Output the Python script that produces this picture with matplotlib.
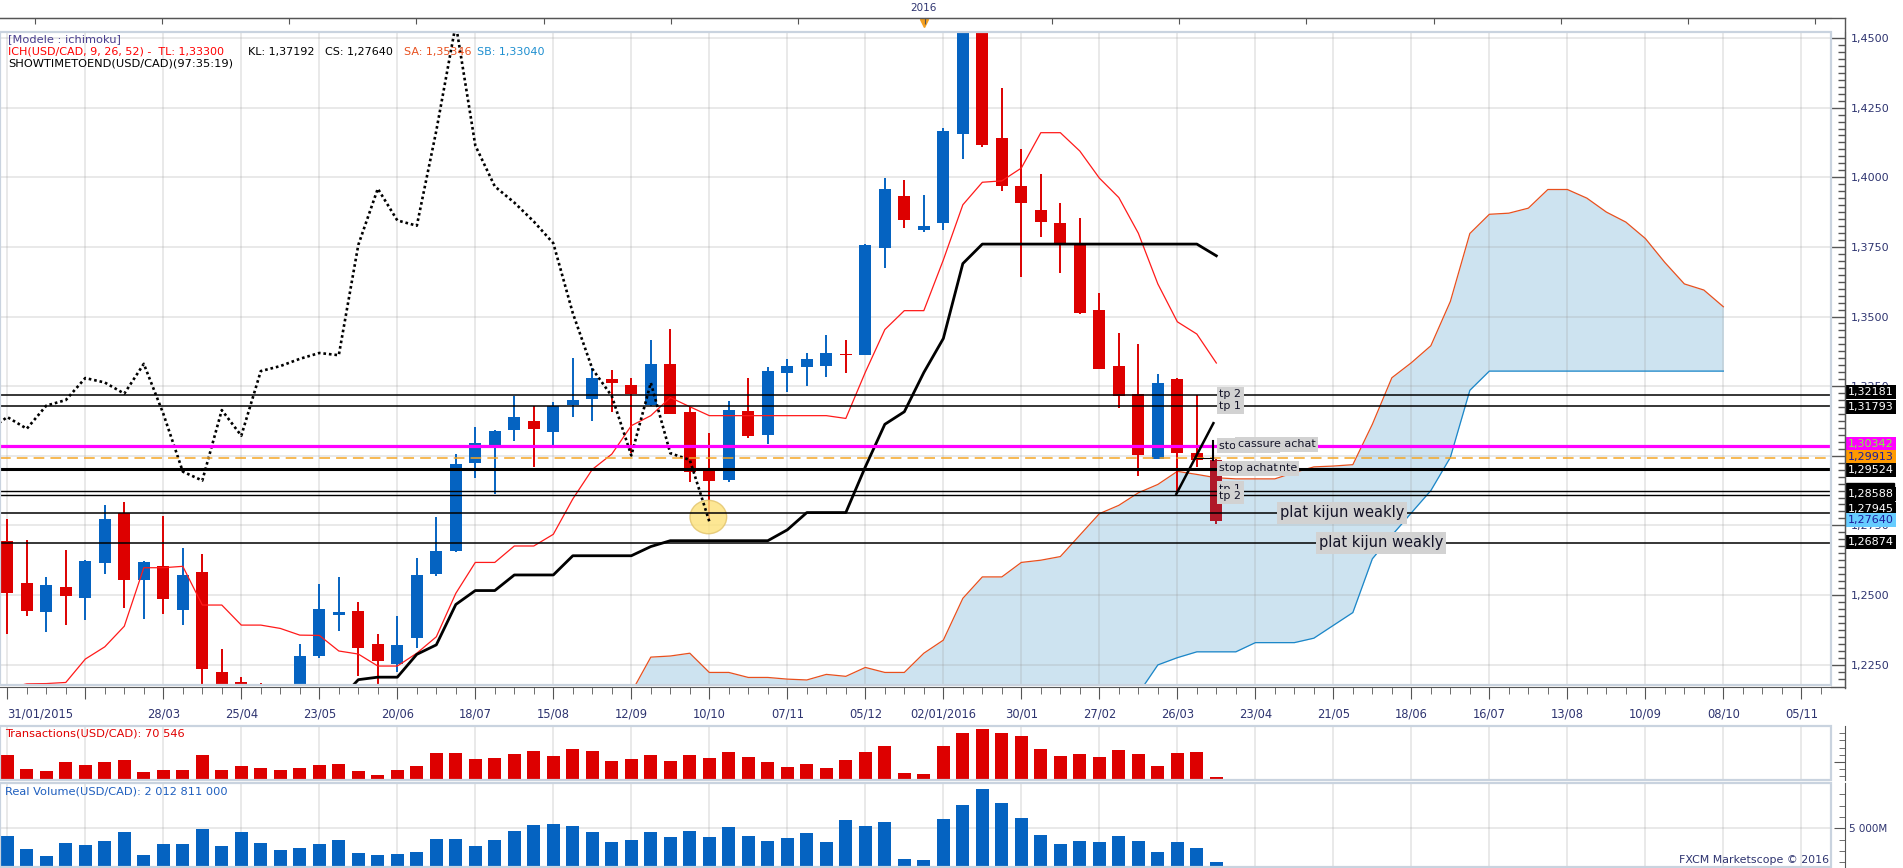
import numpy as np
import matplotlib
matplotlib.use("Agg")
import matplotlib.pyplot as plt
import matplotlib.transforms as mtransforms
from matplotlib.patches import Rectangle, Ellipse
from matplotlib.lines import Line2D
from matplotlib.ticker import MultipleLocator, FuncFormatter

plt.rcParams['font.family'] = ['DejaVu Sans']

# weekly USD/CAD candles, week 0 = 31/01/2015
opens = [1.2694, 1.2543, 1.2440, 1.2528, 1.2490, 1.2616, 1.2795, 1.2555, 1.2604, 1.2447,
         1.2582, 1.2223, 1.2187, 1.2110, 1.2060, 1.2130, 1.2282, 1.2429, 1.2442, 1.2324,
         1.2253, 1.2346, 1.2576, 1.2659, 1.2975, 1.3033, 1.3094, 1.3125, 1.3087, 1.3182,
         1.3202, 1.3276, 1.3254, 1.3182, 1.3330, 1.3157, 1.2954, 1.2914, 1.3161, 1.3076,
         1.3298, 1.3320, 1.3324, 1.3365, 1.3363, 1.3747, 1.3933, 1.3809, 1.3835, 1.4154,
         1.4560, 1.4141, 1.3969, 1.3883, 1.3836, 1.3760, 1.3524, 1.3323, 1.3223, 1.2990,
         1.3277, 1.3010, 1.2985]
highs = [1.2773, 1.2697, 1.2564, 1.2661, 1.2625, 1.2823, 1.2834, 1.2622, 1.2783, 1.2668,
         1.2647, 1.2306, 1.2205, 1.2183, 1.2170, 1.2324, 1.2539, 1.2564, 1.2475, 1.2360,
         1.2424, 1.2633, 1.2780, 1.3006, 1.3105, 1.3092, 1.3215, 1.3180, 1.3192, 1.3351,
         1.3314, 1.3308, 1.3279, 1.3416, 1.3455, 1.3176, 1.3082, 1.3198, 1.3279, 1.3318,
         1.3348, 1.3370, 1.3434, 1.3416, 1.3760, 1.3997, 1.3991, 1.3937, 1.4177, 1.4690,
         1.4690, 1.4321, 1.4100, 1.4013, 1.3908, 1.3855, 1.3585, 1.3441, 1.3403, 1.3295,
         1.3280, 1.3218, 1.2990]
lows = [1.2359, 1.2425, 1.2367, 1.2393, 1.2410, 1.2575, 1.2453, 1.2413, 1.2431, 1.2392,
        1.2150, 1.2120, 1.2030, 1.1950, 1.2000, 1.2100, 1.2275, 1.2372, 1.2209, 1.2180,
        1.2224, 1.2311, 1.2570, 1.2655, 1.2919, 1.2863, 1.3054, 1.2959, 1.3029, 1.3140,
        1.3123, 1.3158, 1.3009, 1.3180, 1.3150, 1.2907, 1.2769, 1.2904, 1.3063, 1.3041,
        1.3229, 1.3252, 1.3283, 1.3298, 1.3360, 1.3673, 1.3818, 1.3805, 1.3812, 1.4064,
        1.4110, 1.3949, 1.3641, 1.3787, 1.3655, 1.3508, 1.3310, 1.3171, 1.2926, 1.2988,
        1.2863, 1.2959, 1.2754]
closes = [1.2508, 1.2443, 1.2536, 1.2497, 1.2622, 1.2773, 1.2555, 1.2618, 1.2485, 1.2571,
          1.2235, 1.2180, 1.2110, 1.2060, 1.2130, 1.2281, 1.2449, 1.2439, 1.2311, 1.2264,
          1.2320, 1.2571, 1.2658, 1.2970, 1.3046, 1.3089, 1.3139, 1.3097, 1.3180, 1.3200,
          1.3279, 1.3263, 1.3223, 1.3330, 1.3151, 1.2943, 1.2911, 1.3164, 1.3072, 1.3304,
          1.3322, 1.3348, 1.3369, 1.3361, 1.3757, 1.3959, 1.3845, 1.3826, 1.4167, 1.4550,
          1.4114, 1.3967, 1.3909, 1.3841, 1.3763, 1.3512, 1.3312, 1.3214, 1.3001, 1.3262,
          1.3009, 1.2985, 1.2764]

# ichimoku lines
tenkan = [1.2165, 1.2181, 1.2182, 1.2186, 1.2270, 1.2314, 1.2388, 1.2598, 1.2598, 1.2603,
          1.2464, 1.2464, 1.2392, 1.2392, 1.2380, 1.2356, 1.2355, 1.2299, 1.2288, 1.2245,
          1.2245, 1.2291, 1.2350, 1.2506, 1.2617, 1.2617, 1.2676, 1.2676, 1.2718, 1.2845,
          1.2951, 1.3006, 1.3108, 1.3144, 1.3209, 1.3176, 1.3144, 1.3144, 1.3144, 1.3144,
          1.3144, 1.3144, 1.3144, 1.3134, 1.3300, 1.3453, 1.3521, 1.3521, 1.3703, 1.3901,
          1.3982, 1.3987, 1.4033, 1.4160, 1.4160, 1.4094, 1.3997, 1.3927, 1.3799, 1.3617,
          1.3481, 1.3437, 1.3333]
kijun_start = 17
kijun = [1.2120, 1.2196, 1.2205, 1.2205, 1.2287, 1.2321, 1.2466, 1.2516, 1.2516, 1.2572,
         1.2572, 1.2572, 1.2641, 1.2641, 1.2641, 1.2641, 1.2674, 1.2695, 1.2695, 1.2695,
         1.2695, 1.2695, 1.2695, 1.2734, 1.2796, 1.2796, 1.2796, 1.2960, 1.3113, 1.3158,
         1.3299, 1.3421, 1.3690, 1.3760, 1.3760, 1.3760, 1.3760, 1.3760, 1.3760, 1.3760,
         1.3760, 1.3760, 1.3760, 1.3760, 1.3760, 1.3718]
cloud_start = 32
senkou_a = [1.2150, 1.2277, 1.2281, 1.2291, 1.2222, 1.2222, 1.2204, 1.2204, 1.2198, 1.2195,
            1.2215, 1.2208, 1.2240, 1.2222, 1.2222, 1.2291, 1.2338, 1.2488, 1.2565, 1.2565,
            1.2617, 1.2625, 1.2638, 1.2715, 1.2792, 1.2822, 1.2867, 1.2897, 1.2944, 1.2933,
            1.2921, 1.2917, 1.2917, 1.2917, 1.2940, 1.2960, 1.2963, 1.2968, 1.3113, 1.3280,
            1.3334, 1.3395, 1.3554, 1.3798, 1.3867, 1.3871, 1.3889, 1.3956, 1.3956, 1.3925,
            1.3875, 1.3839, 1.3780, 1.3694, 1.3617, 1.3595, 1.3535]
senkou_b = [1.2040, 1.2040, 1.2040, 1.2040, 1.2040, 1.2040, 1.2040, 1.2040, 1.2040, 1.2075,
            1.2075, 1.2075, 1.2075, 1.2075, 1.2075, 1.2075, 1.2075, 1.2075, 1.2110, 1.2110,
            1.2110, 1.2110, 1.2110, 1.2110, 1.2110, 1.2110, 1.2146, 1.2249, 1.2275, 1.2296,
            1.2296, 1.2296, 1.2329, 1.2329, 1.2329, 1.2345, 1.2391, 1.2437, 1.2630, 1.2714,
            1.2795, 1.2875, 1.2994, 1.3235, 1.3304, 1.3304, 1.3304, 1.3304, 1.3304, 1.3304,
            1.3304, 1.3304, 1.3304, 1.3304, 1.3304, 1.3304, 1.3304]

# transactions (thousands) and real volume (millions)
transactions = [858, 353, 282, 600, 494, 600, 670, 247, 318, 318,
                847, 318, 459, 388, 318, 388, 494, 529, 282, 141,
                318, 459, 917, 917, 706, 741, 882, 988, 811, 1058,
                988, 635, 706, 847, 635, 847, 741, 953, 776, 600,
                423, 529, 388, 670, 953, 1164, 212, 176, 1164, 1635,
                1764, 1635, 1529, 1058, 823, 894, 788, 1035, 894, 470,
                929, 964, 71]
volume = [4027, 2301, 1372, 3053, 2788, 3319, 4514, 1505, 2921, 2921,
          4956, 2655, 4514, 3053, 2124, 2390, 2921, 3452, 1726, 1460,
          1593, 1859, 3584, 3584, 2655, 3452, 4646, 5443, 5576, 5310,
          4514, 3186, 3452, 4514, 3850, 4646, 3850, 5177, 3983, 3319,
          3717, 4381, 3186, 6107, 5310, 5841, 929, 797, 6239, 8098,
          10222, 8363, 6372, 4115, 2921, 3319, 3186, 3983, 3319, 1859,
          3186, 2390, 531]

date_labels = ['31/01/2015', '', '28/03', '25/04', '23/05', '20/06', '18/07', '15/08',
               '12/09', '10/10', '07/11', '05/12', '02/01/2016', '30/01', '27/02', '26/03',
               '23/04', '21/05', '18/06', '16/07', '13/08', '10/09', '08/10', '05/11']

levels = [1.32181, 1.31793, 1.30342, 1.29913, 1.29524, 1.28752, 1.28588, 1.27945, 1.26874]
trend_x = [59.95, 61.85]
trend_y = [1.2863, 1.3117]

W, H = 1903, 868
RED = '#dd0000'
BLUE = '#0563c1'
LAST = '#b01828'
AXIS = '#555555'
BORDER = '#c9d3df'
NAVY = '#2e3470'
GRID = '#999999'
XL = (-0.374, 93.52)

fig = plt.figure(figsize=(W / 100, H / 100), dpi=100)
fig.patch.set_facecolor('white')


def box(x0, y0, x1, y1):
    return [x0 / W, 1 - y1 / H, (x1 - x0) / W, (y1 - y0) / H]


def fig_line(x0, y0, x1, y1, **kw):
    fig.add_artist(Line2D([x0 / W, x1 / W], [1 - y0 / H, 1 - y1 / H],
                          transform=fig.transFigure, **kw))


def fig_text(x, y, s, **kw):
    fig.text(x / W, 1 - y / H, s, va='center', **kw)


week = np.arange(len(closes))
major_weeks = np.arange(0, 93, 4)

# ---------- price panel ----------
ax = fig.add_axes(box(0, 32, 1831, 685))
ax.set_xlim(XL)
ax.set_ylim(1.21769, 1.45215)
for s in ['left', 'top']:
    ax.spines[s].set_visible(False)
ax.spines['right'].set_position(('outward', 10.08))
ax.spines['bottom'].set_position(('outward', 1.5))
for s in ['right', 'bottom']:
    ax.spines[s].set_color(AXIS)
ax.add_patch(Rectangle((0, 0), 1, 1, transform=ax.transAxes, fill=False,
                       ec=BORDER, lw=1.6, clip_on=False, zorder=6))

ax.yaxis.tick_right()
ax.yaxis.set_major_locator(MultipleLocator(0.025))
ax.yaxis.set_minor_locator(MultipleLocator(0.0025))
ax.yaxis.set_major_formatter(FuncFormatter(lambda v, p: f'{v:.4f}'.replace('.', ',')))
ax.tick_params(axis='y', which='major', direction='in', length=10, width=1,
               color=AXIS, labelsize=8, labelcolor=NAVY, pad=4)
ax.tick_params(axis='y', which='minor', direction='in', length=5, width=1, color=AXIS)

ax.set_xticks(major_weeks)
labs = ax.set_xticklabels(date_labels)
labs[0].set_horizontalalignment('left')
ax.set_xticks(np.arange(0, 94), minor=True)
ax.tick_params(axis='x', which='major', direction='out', length=8.4, color=AXIS,
               labelsize=8.3, labelcolor=NAVY, pad=6)
ax.tick_params(axis='x', which='minor', direction='out', length=4.8, color=AXIS)

for wk in major_weeks:
    ax.axvline(wk, color=GRID, alpha=0.25, lw=1.2, zorder=1.5)
for lv in np.arange(1.225, 1.451, 0.025):
    ax.axhline(lv, color=GRID, alpha=0.25, lw=1.2, zorder=1.5)

# kumo
xc = np.arange(cloud_start, cloud_start + len(senkou_a))
ax.fill_between(xc, senkou_a, senkou_b, color='#cde3f0', lw=0, zorder=1)
ax.plot(xc, senkou_a, color='#e8501e', lw=0.9, zorder=3)
ax.plot(xc, senkou_b, color='#1a86c8', lw=0.9, zorder=3)

# candles
o, h, l, c = (np.array(v) for v in (opens, highs, lows, closes))
cols = np.where(c >= o, BLUE, RED).astype(object)
cols[-1] = LAST
ax.vlines(week, l, h, colors=list(cols), lw=1.4, zorder=3.5)
ax.bar(week, np.maximum(np.abs(c - o), 0.0005), bottom=np.minimum(o, c), width=0.62,
       color=list(cols), lw=0, zorder=3.6)

ax.add_patch(Ellipse((35.95, 1.2780), 1.88, 0.0120, fc='#fde27a', ec='#e2c36a',
                     lw=1, alpha=0.8, zorder=3.8))

ax.plot(week, tenkan, color='#ff1a1a', lw=0.9, zorder=4)
xk = np.arange(kijun_start, kijun_start + len(kijun))
ax.plot(xk, kijun, color='black', lw=2.0, zorder=4)
ax.plot(week[25:] - 26, c[25:], color='black', lw=1.9, ls=(0, (1, 1.1)), zorder=4)

level_styles = [dict(color='black', lw=1.1), dict(color='black', lw=1.1),
                dict(color='#ff00ff', lw=2.3), dict(color='#f5a623', lw=1.1, ls=(0, (7, 4))),
                dict(color='black', lw=2.2), dict(color='black', lw=1.0),
                dict(color='black', lw=1.0), dict(color='black', lw=1.1),
                dict(color='black', lw=1.1)]
for lv, st in zip(levels, level_styles):
    ax.axhline(lv, zorder=4.5, **st)

ax.plot(trend_x, trend_y, color='black', lw=1.8, zorder=4.6)
ax.plot([61.85, 61.85], [1.3053, 1.2985], color='black', lw=1.5, zorder=4.6)
ax.plot([60.9, 61.85], [1.2992, 1.2992], color='black', lw=0.8, zorder=4.6)

lab_box = dict(boxstyle='square,pad=0.22', fc='#d2d2d2', ec='none')


def chart_label(x, y, s, size=8, z=7):
    ax.text(x, y, s, fontsize=size, color='#141428', va='center', ha='left',
            bbox=lab_box, zorder=z)


chart_label(62.15, 1.32210, 'tp 2')
chart_label(62.15, 1.31780, 'tp 1')
chart_label(62.15, 1.30360, 'stop achat')
chart_label(63.10, 1.30410, 'cassure achat', z=7.2)
chart_label(63.10, 1.29550, 'stop vente')
chart_label(62.15, 1.29550, 'stop achat', z=7.2)
chart_label(62.15, 1.28820, 'tp 1')
chart_label(62.15, 1.28550, 'tp 2', z=7.2)
chart_label(65.25, 1.27945, 'plat kijun weakly', size=10.5)
chart_label(67.25, 1.26874, 'plat kijun weakly', size=10.5)

# price tags on the right scale
trans = mtransforms.blended_transform_factory(ax.transAxes, ax.transData)
ax.add_patch(Rectangle((1.0082, 1.28286), 0.0262, 0.0075, transform=trans,
                       color='black', clip_on=False, zorder=8))
price_tags = [(1.32181, 1.3229, 'black', 'white'), (1.31793, 1.3174, 'black', 'white'),
              (1.30342, 1.3043, '#ff00ff', '#7cff3a'), (1.29913, 1.2995, '#ff9a00', '#1c1c9c'),
              (1.29524, 1.2950, 'black', 'white'), (1.28588, 1.2864, 'black', 'white'),
              (1.27945, 1.2809, 'black', 'white'), (1.27640, 1.2768, '#66ccff', '#1c1c9c'),
              (1.26874, 1.2691, 'black', 'white')]
for val, ypos, fc, tc in price_tags:
    ax.text(1.0093, ypos, f'{val:.5f}'.replace('.', ','), transform=trans, fontsize=8,
            color=tc, va='center', ha='left', clip_on=False, zorder=9,
            bbox=dict(boxstyle='square,pad=0.18', fc=fc, ec='none'))

# top time axis
axt = ax.twiny()
axt.set_xlim(XL)
for s in ['left', 'right', 'bottom']:
    axt.spines[s].set_visible(False)
axt.spines['top'].set_position(('outward', 10.08))
axt.spines['top'].set_color(AXIS)
axt.set_xticks(np.arange(1.42, 94, 6.52))
axt.tick_params(axis='x', direction='in', length=4.3, color=AXIS, labeltop=False)
bt = mtransforms.blended_transform_factory(ax.transData, ax.transAxes)
ax.text(47.0, 1.0368, '2016', transform=bt, ha='center', va='center', fontsize=7.5,
        color=NAVY, clip_on=False)
ax.plot([47.0], [1.0135], marker='v', ms=6, color='#f5a020', transform=bt, clip_on=False)


# ---------- lower panels ----------
def sub_panel(a, ylim):
    a.set_xlim(XL)
    a.set_ylim(ylim)
    for s in ['left', 'top', 'bottom']:
        a.spines[s].set_visible(False)
    a.spines['right'].set_position(('outward', 10.08))
    a.spines['right'].set_color(AXIS)
    a.add_patch(Rectangle((0, 0), 1, 1, transform=a.transAxes, fill=False,
                          ec=BORDER, lw=1.6, clip_on=False, zorder=6))
    a.yaxis.tick_right()
    a.tick_params(axis='x', which='both', bottom=False, labelbottom=False)
    for wk in major_weeks:
        a.axvline(wk, color=GRID, alpha=0.25, lw=1.2, zorder=0.5)


ax2 = fig.add_axes(box(0, 726, 1831, 780))
sub_panel(ax2, (-35, 1871))
ax2.bar(week, transactions, width=0.67, color=RED, lw=0, zorder=2)
ax2.set_yticks([600])
ax2.set_yticks([90, 345, 855, 1110, 1365, 1620], minor=True)
ax2.tick_params(axis='y', which='major', direction='in', length=8, color=AXIS, labelright=False)
ax2.tick_params(axis='y', which='minor', direction='in', length=4, color=AXIS)

ax3 = fig.add_axes(box(0, 783, 1831, 867))
sub_panel(ax3, (-133, 11018))
ax3.axhline(5000, color=GRID, alpha=0.25, lw=1.2, zorder=0.5)
ax3.bar(week, volume, width=0.67, color=BLUE, lw=0, zorder=2)
ax3.set_yticks([5000])
ax3.set_yticklabels(['5 000M'])
ax3.set_yticks([500, 2000, 3500, 6500, 8000, 9500], minor=True)
ax3.tick_params(axis='y', which='major', direction='in', length=8, color=AXIS,
                labelsize=7.5, labelcolor=NAVY, pad=3)
ax3.tick_params(axis='y', which='minor', direction='in', length=4, color=AXIS)

# axis lines reaching the corners
fig_line(0, 18, 1845, 18, color=AXIS, lw=1)
fig_line(1845, 18, 1845, 688, color=AXIS, lw=1)
fig_line(1831, 687, 1845, 687, color=AXIS, lw=1)

# header texts
fig_text(8, 39, '[Modele : ichimoku]', color='#4a3f8f', fontsize=8.2)
fig_text(8, 52, 'ICH(USD/CAD, 9, 26, 52) -  TL: 1,33300', color='#ff0000', fontsize=8)
fig_text(248, 52, 'KL: 1,37192', color='black', fontsize=8)
fig_text(325, 52, 'CS: 1,27640', color='black', fontsize=8)
fig_text(404, 52, 'SA: 1,35346', color='#e8501e', fontsize=8)
fig_text(477, 52, 'SB: 1,33040', color='#1e8fd0', fontsize=8)
fig_text(8, 64, 'SHOWTIMETOEND(USD/CAD)(97:35:19)', color='black', fontsize=8.2)
fig_text(5, 734, 'Transactions(USD/CAD): 70 546', color='#e00000', fontsize=8.2)
fig_text(5, 792, 'Real Volume(USD/CAD): 2 012 811 000', color='#1f5fbf', fontsize=8.2)
fig.text(1829 / W, 1 - 860 / H, 'FXCM Marketscope © 2016', ha='right', va='center',
         fontsize=7.9, color=NAVY)

fig.savefig('out.png', dpi=100)
